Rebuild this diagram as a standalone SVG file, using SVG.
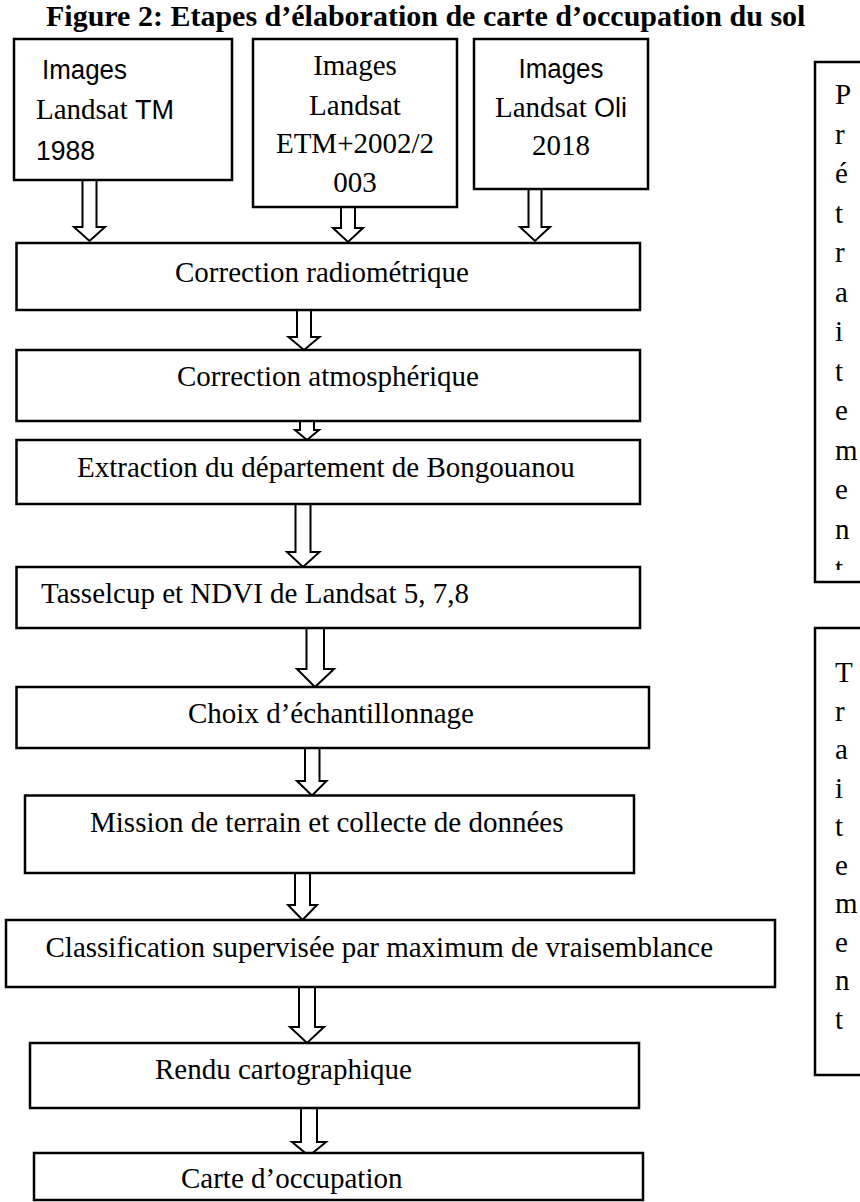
<svg xmlns="http://www.w3.org/2000/svg" width="860" height="1202" viewBox="0 0 860 1202">
<defs>
<style>
.box{fill:#fff;stroke:#000;stroke-width:2.5}
.arr{fill:#fff;stroke:#000;stroke-width:2;stroke-linejoin:miter}
.t{font-family:"Liberation Serif","Times New Roman",serif;font-size:29px;fill:#000}
.c{font-family:"Liberation Sans",Arial,sans-serif;font-size:27px;fill:#000}
.title{font-family:"Liberation Serif","Times New Roman",serif;font-size:30px;font-weight:bold;fill:#000}
.mid{text-anchor:middle}
</style>
<clipPath id="clipP"><rect x="815" y="60" width="45" height="510"/></clipPath>
</defs>
<rect width="860" height="1202" fill="#fff"/>
<text class="title" x="46" y="26">Figure 2: Etapes d’élaboration de carte d’occupation du sol</text>

<g id="connectors">
<polygon class="arr" points="82.5,180 96.5,180 96.5,227 105,227 89.5,241 74,227 82.5,227"/>
<polygon class="arr" points="341,207 355,207 355,228 363,228 348,242 333,228 341,228"/>
<polygon class="arr" points="528.5,189 541.5,189 541.5,227 550,227 535,241 520,227 528.5,227"/>
<polygon class="arr" points="297,310 311,310 311,337 319.5,337 304,350 288.5,337 297,337"/>
<polygon class="arr" points="300,421 314,421 314,430 319,430 307,440 295,430 300,430"/>
<polygon class="arr" points="295.5,504 310.5,504 310.5,552 319.5,552 303,567 287,552 295.5,552"/>
<polygon class="arr" points="306.5,628 324,628 324,669 334,669 315,687 297,669 306.5,669"/>
<polygon class="arr" points="305,748 319.5,748 319.5,781 326.5,781 312,795.5 297,781 305,781"/>
<polygon class="arr" points="295,873 310,873 310,905 317,905 302.5,920 288,905 295,905"/>
<polygon class="arr" points="299,987 315,987 315,1027 324,1027 307,1043 290,1027 299,1027"/>
<polygon class="arr" points="301,1108 317,1108 317,1142 326,1142 309,1156 292,1142 301,1142"/>
</g>

<g id="n-landsat-tm">
<rect class="box" x="14" y="39" width="218" height="141"/>
<text class="c" x="42" y="79" textLength="85" lengthAdjust="spacingAndGlyphs">Images</text>
<text x="36" y="119"><tspan class="t">Landsat </tspan><tspan class="c">TM</tspan></text>
<text class="c" x="36" y="160" textLength="59" lengthAdjust="spacingAndGlyphs">1988</text>
</g>

<g id="n-landsat-etm">
<rect class="box" x="253" y="39" width="204" height="168"/>
<text class="t mid" x="355" y="75">Images</text>
<text class="t mid" x="355" y="115">Landsat</text>
<text class="t mid" x="355" y="153">ETM+2002/2</text>
<text class="t mid" x="355" y="192">003</text>
</g>

<g id="n-landsat-oli">
<rect class="box" x="474" y="39" width="174" height="150"/>
<text class="c mid" x="561" y="78" textLength="85" lengthAdjust="spacingAndGlyphs">Images</text>
<text class="mid" x="561" y="117"><tspan class="t">Landsat </tspan><tspan class="c">Oli</tspan></text>
<text class="t mid" x="561" y="155">2018</text>
</g>

<g id="n-pretraitement">
<rect class="box" x="815" y="62" width="60" height="520"/>
<g clip-path="url(#clipP)">
<text class="t" x="835" y="104">P</text>
<text class="t" x="835" y="143.5">r</text>
<text class="t" x="835" y="183">é</text>
<text class="t" x="835" y="222.5">t</text>
<text class="t" x="835" y="262">r</text>
<text class="t" x="835" y="301.5">a</text>
<text class="t" x="835" y="341">i</text>
<text class="t" x="835" y="380.5">t</text>
<text class="t" x="835" y="420">e</text>
<text class="t" x="835" y="459.5">m</text>
<text class="t" x="835" y="499">e</text>
<text class="t" x="835" y="538.5">n</text>
<text class="t" x="835" y="578">t</text>
</g>
</g>

<g id="n-traitement">
<rect class="box" x="815" y="628" width="60" height="447"/>
<text class="t" x="835" y="682">T</text>
<text class="t" x="835" y="720.5">r</text>
<text class="t" x="835" y="759">a</text>
<text class="t" x="835" y="797.5">i</text>
<text class="t" x="835" y="836">t</text>
<text class="t" x="835" y="874.5">e</text>
<text class="t" x="835" y="913">m</text>
<text class="t" x="835" y="951.5">e</text>
<text class="t" x="835" y="990">n</text>
<text class="t" x="835" y="1028.5">t</text>
</g>

<g id="n-radiometrique">
<rect class="box" x="16.5" y="243" width="623.5" height="67"/>
<text class="t mid" x="322" y="282">Correction radiométrique</text>
</g>
<g id="n-atmospherique">
<rect class="box" x="16.5" y="350" width="623.5" height="71"/>
<text class="t mid" x="328" y="386">Correction atmosphérique</text>
</g>
<g id="n-extraction">
<rect class="box" x="16.5" y="440" width="623.5" height="64"/>
<text class="t" x="77" y="477">Extraction du département de Bongouanou</text>
</g>
<g id="n-tasselcup">
<rect class="box" x="16.5" y="567" width="623.5" height="61"/>
<text class="t" x="41" y="603">Tasselcup et NDVI de Landsat 5, 7,8</text>
</g>
<g id="n-choix">
<rect class="box" x="16.5" y="687" width="632.5" height="61"/>
<text class="t" x="188" y="723">Choix d’échantillonnage</text>
</g>
<g id="n-mission">
<rect class="box" x="25" y="795.5" width="609" height="77.5"/>
<text class="t" x="90" y="832">Mission de terrain et collecte de données</text>
</g>
<g id="n-classification">
<rect class="box" x="6" y="920" width="769" height="67"/>
<text class="t" x="45.5" y="957">Classification supervisée par maximum de vraisemblance</text>
</g>
<g id="n-rendu">
<rect class="box" x="30" y="1043" width="609" height="65"/>
<text class="t" x="155" y="1079">Rendu cartographique</text>
</g>
<g id="n-carte">
<rect class="box" x="34" y="1153" width="609" height="47"/>
<text class="t" x="181" y="1188">Carte d’occupation</text>
</g>
</svg>
